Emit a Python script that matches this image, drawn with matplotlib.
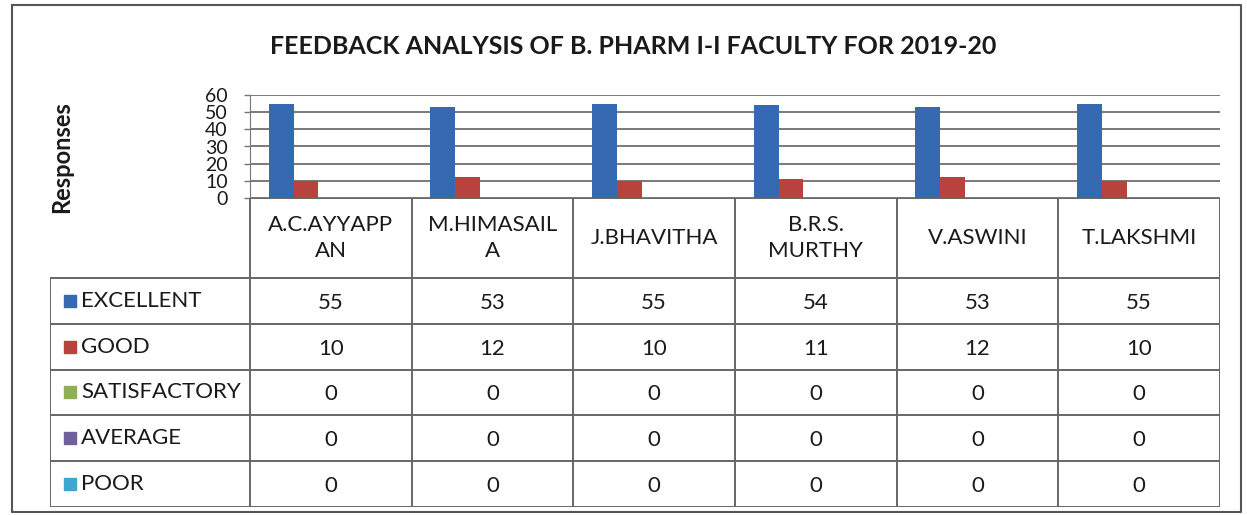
import matplotlib
matplotlib.use("Agg")
import matplotlib.pyplot as plt
import numpy as np

# data
faculty = ["A.C.AYYAPP\nAN", "M.HIMASAIL\nA", "J.BHAVITHA", "B.R.S.\nMURTHY", "V.ASWINI", "T.LAKSHMI"]
levels = ["EXCELLENT", "GOOD", "SATISFACTORY", "AVERAGE", "POOR"]
excellent = [55, 53, 55, 54, 53, 55]
good = [10, 12, 10, 11, 12, 10]
satisfactory = [0, 0, 0, 0, 0, 0]
average = [0, 0, 0, 0, 0, 0]
poor = [0, 0, 0, 0, 0, 0]
yticks = [0, 10, 20, 30, 40, 50, 60]

series = [excellent, good, satisfactory, average, poor]
colors = ["#3569b2", "#b8423d", "#8fae55", "#72609a", "#3ea6d0"]

W, H = 1247, 515
plt.rcParams['font.family'] = ['Lato', 'DejaVu Sans']

fig = plt.figure(figsize=(W / 100, H / 100), dpi=100)

def fbox(x0, y0, x1, y1):
    # pixel box -> figure fraction [left, bottom, width, height]
    return [x0 / W, 1 - y1 / H, (x1 - x0) / W, (y1 - y0) / H]

# outer chart frame
frame = fig.add_axes([0, 0, 1, 1])
frame.set_xlim(0, W)
frame.set_ylim(H, 0)
frame.axis("off")
frame.plot([12, 1241, 1241, 12, 12], [5, 5, 512, 512, 5], color="#555555", lw=1.5)

fig.text(633 / W, 1 - 47 / H, "FEEDBACK ANALYSIS OF B. PHARM I-I FACULTY FOR 2019-20",
         ha="center", va="center", fontsize=18, fontweight="bold", color="#1a1a1a")
fig.text(62 / W, 1 - 157 / H, "Responses", rotation=90, ha="center", va="center",
         fontsize=17, fontweight="bold", color="#1a1a1a")

# bar chart
left_px, right_px = 250, 1220
ax = fig.add_axes(fbox(left_px, 95, right_px, 198))
n = len(faculty)
x = np.arange(n)
bw = 1 / 6.5
for i, (vals, c) in enumerate(zip(series, colors)):
    ax.bar(x - 2.5 * bw + (i + 0.5) * bw, vals, bw, color=c, zorder=3)
ax.set_xlim(-0.5, n - 0.5)
ax.set_ylim(0, 60)
ax.set_yticks(yticks)
ax.set_yticklabels([str(v) for v in yticks], fontsize=14, color="#1a1a1a")
ax.tick_params(axis="y", length=4, width=1, color="#777777", pad=12)
ax.set_xticks([])
ax.grid(axis="y", color="#6e6e6e", lw=1.3, zorder=0)
for s in ["top", "right", "bottom"]:
    ax.spines[s].set_visible(False)
ax.spines["left"].set_color("#777777")

# data table
t_left, t_top, t_bottom = 50, 198, 507
head_bottom = 278
tab = fig.add_axes(fbox(t_left, t_top, right_px, t_bottom))
tab.set_xlim(t_left, right_px)
tab.set_ylim(t_bottom, t_top)
tab.axis("off")

col_w = (right_px - left_px) / n
col_edges = [left_px + k * col_w for k in range(n + 1)]
row_h = (t_bottom - head_bottom) / len(levels)
row_edges = [head_bottom + k * row_h for k in range(len(levels) + 1)]
lc = "#666666"

for xe in col_edges:
    tab.plot([xe, xe], [t_top, t_bottom], color=lc, lw=1.4)
tab.plot([t_left, t_left], [head_bottom, t_bottom], color=lc, lw=1.4)
tab.plot([left_px, right_px], [t_top, t_top], color=lc, lw=1.4)
for ye in row_edges:
    tab.plot([t_left, right_px], [ye, ye], color=lc, lw=1.4)

for j, name in enumerate(faculty):
    cx = (col_edges[j] + col_edges[j + 1]) / 2
    tab.text(cx, (t_top + head_bottom) / 2, name, ha="center", va="center",
             fontsize=16, linespacing=1.4, color="#1a1a1a")

for i, (lev, vals, c) in enumerate(zip(levels, series, colors)):
    cy = (row_edges[i] + row_edges[i + 1]) / 2
    tab.scatter([70], [cy], marker="s", s=85, color=c, zorder=3)
    tab.text(81, cy, lev, ha="left", va="center", fontsize=16, color="#1a1a1a")
    for j, v in enumerate(vals):
        cx = (col_edges[j] + col_edges[j + 1]) / 2
        tab.text(cx, cy + 2, str(v), ha="center", va="center", fontsize=16, color="#1a1a1a")

fig.savefig("out.png", dpi=100)
